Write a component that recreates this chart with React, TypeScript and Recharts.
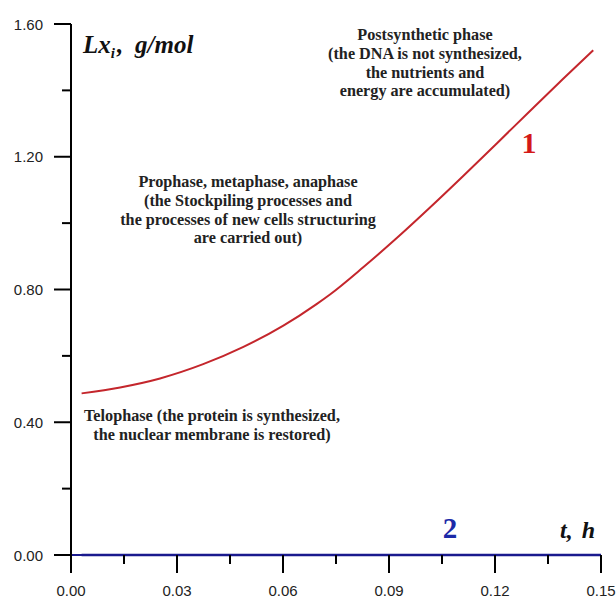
import React from 'react';
import { LineChart, Line, XAxis, YAxis } from 'recharts';

// curve 1: Lx_i vs t
const curveT = [0.003, 0.0139, 0.0252, 0.0374, 0.0488, 0.0601, 0.0695, 0.0733, 0.0827, 0.0922, 0.1016, 0.111, 0.1205, 0.1299, 0.1393, 0.1478];
const curveLx = [0.487, 0.505, 0.532, 0.575, 0.627, 0.691, 0.756, 0.785, 0.867, 0.955, 1.047, 1.142, 1.24, 1.338, 1.435, 1.521];

// curve 2: stays at zero
const flatT = [0.003, 0.15];
const flatLx = [0, 0];

const xTicks = [0, 0.015, 0.03, 0.045, 0.06, 0.075, 0.09, 0.105, 0.12, 0.135, 0.15];
const yTicks = [0, 0.2, 0.4, 0.6, 0.8, 1.0, 1.2, 1.4, 1.6];

const curve1 = curveT.map((t, i) => ({ t, lx: curveLx[i] }));
const curve2 = flatT.map((t, i) => ({ t, lx: flatLx[i] }));

const SERIF = '"Liberation Serif", "Times New Roman", serif';
const SANS = '"Liberation Sans", Arial, sans-serif';
const NAVY = '#1a1a8e';

const XTick = ({ x, y, payload, index }: any) => {
  const major = index % 2 === 0;
  return (
    <g>
      <line x1={x} x2={x} y1={y} y2={y + (major ? 18 : 9)} stroke="#000" strokeWidth={2} />
      {major && (
        <text x={x} y={y + 41} textAnchor="middle" fontFamily={SANS} fontSize={15} fill="#222">
          {Number(payload.value).toFixed(2)}
        </text>
      )}
    </g>
  );
};

const YTick = ({ x, y, payload, index }: any) => {
  const major = index % 2 === 0;
  return (
    <g>
      <line x1={x - (major ? 17 : 9)} x2={x} y1={y} y2={y} stroke="#000" strokeWidth={2} />
      {major && (
        <text x={x - 28} y={y + 5.5} textAnchor="end" fontFamily={SANS} fontSize={15} fill="#222">
          {Number(payload.value).toFixed(2)}
        </text>
      )}
    </g>
  );
};

const Note = ({ cx, y, lines }: { cx: number; y: number; lines: string[] }) => (
  <text textAnchor="middle" fontFamily={SERIF} fontWeight="bold" fontSize={16.2} fill="#222">
    {lines.map((l, i) => (
      <tspan key={i} x={cx} y={y + i * 18.8}>
        {l}
      </tspan>
    ))}
  </text>
);

export default function App() {
  return (
    <div style={{ position: 'absolute', left: 0, top: 0, width: 616, height: 598, background: '#fff' }}>
      <LineChart width={616} height={598} margin={{ top: 24, right: 15, bottom: 0, left: 0 }}>
        <XAxis
          dataKey="t"
          type="number"
          domain={[0, 0.15]}
          ticks={xTicks}
          interval={0}
          height={43}
          tickSize={0}
          tickMargin={0}
          tickLine={false}
          axisLine={{ stroke: NAVY, strokeWidth: 2 }}
          tick={<XTick />}
        />
        <YAxis
          dataKey="lx"
          type="number"
          domain={[0, 1.6]}
          ticks={yTicks}
          interval={0}
          width={71}
          tickSize={0}
          tickMargin={0}
          tickLine={false}
          axisLine={{ stroke: '#000', strokeWidth: 2 }}
          tick={<YTick />}
        />
        <Line data={curve1} dataKey="lx" type="monotone" stroke="#c4262c" strokeWidth={2} dot={false} isAnimationActive={false} />
        <Line data={curve2} dataKey="lx" type="linear" stroke={NAVY} strokeWidth={2.5} dot={false} isAnimationActive={false} />
        <g>
          <text x={83} y={53} fontFamily={SERIF} fontStyle="italic" fontWeight="bold" fontSize={25} fill="#111">
            Lx<tspan fontSize={15} dy={5}>i</tspan>
            <tspan dx={2} dy={-5}>,</tspan>
          </text>
          <text x={135} y={53} fontFamily={SERIF} fontStyle="italic" fontWeight="bold" fontSize={25} fill="#111">
            g/mol
          </text>
          <text x={560} y={538} fontFamily={SERIF} fontStyle="italic" fontWeight="bold" fontSize={24} fill="#111">
            t,<tspan dx={9}>h</tspan>
          </text>
          <Note
            cx={425}
            y={40}
            lines={['Postsynthetic phase', '(the DNA is not synthesized,', 'the nutrients and', 'energy are accumulated)']}
          />
          <Note
            cx={248}
            y={187}
            lines={[
              'Prophase, metaphase, anaphase',
              '(the Stockpiling processes and',
              'the processes of new cells structuring',
              'are carried out)',
            ]}
          />
          <Note
            cx={212}
            y={421}
            lines={['Telophase (the protein is synthesized,', 'the nuclear membrane is restored)']}
          />
          <text x={529} y={153} textAnchor="middle" fontFamily={SERIF} fontWeight="bold" fontSize={30} fill="#d41818">
            1
          </text>
          <text x={450} y={538} textAnchor="middle" fontFamily={SERIF} fontWeight="bold" fontSize={29} fill="#1c2aa8">
            2
          </text>
        </g>
      </LineChart>
    </div>
  );
}
